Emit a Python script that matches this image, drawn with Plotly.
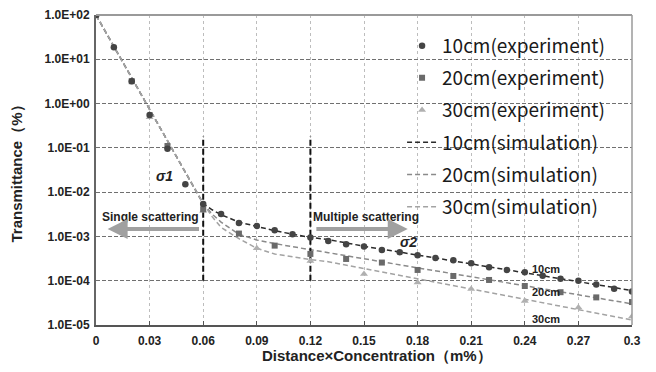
import plotly.graph_objects as go

# ---------------- data ----------------
x10 = [0, 0.01, 0.02, 0.03, 0.04, 0.05, 0.06, 0.07, 0.08, 0.09, 0.10, 0.11, 0.12, 0.13, 0.14, 0.15,
       0.16, 0.17, 0.18, 0.19, 0.20, 0.21, 0.22, 0.23, 0.24, 0.25, 0.26, 0.27, 0.28, 0.29, 0.30]
y10 = [100, 18.7, 3.2, 0.55, 0.096, 0.015, 0.0054, 0.0032, 0.0020, 0.00173, 0.00138, 0.00112, 0.00094,
       0.00079, 0.00067, 0.00059, 0.000495, 0.00044, 0.000376, 0.000327, 0.00029, 0.000248, 0.000202,
       0.000175, 0.000155, 0.00013, 0.000111, 0.0001, 8.2e-5, 6.6e-5, 5.7e-5]

x20 = [0, 0.02, 0.04, 0.06, 0.08, 0.10, 0.12, 0.14, 0.16, 0.18, 0.20, 0.22, 0.24, 0.26, 0.28, 0.30]
y20 = [100, 3.2, 0.11, 0.0041, 0.00116, 0.00062, 0.000403, 0.00031, 0.000257, 0.000175, 0.000128,
       0.000104, 7.6e-5, 5.5e-5, 4.2e-5, 3.3e-5]

x30 = [0, 0.03, 0.06, 0.09, 0.12, 0.15, 0.18, 0.21, 0.24, 0.27, 0.30]
y30 = [100, 0.49, 0.0038, 0.00054, 0.00028, 0.000142, 9.1e-5, 6.5e-5, 3.5e-5, 2.5e-5, 1.55e-5]

x_sim = [0, 0.06, 0.065, 0.07, 0.08, 0.09, 0.10, 0.11, 0.12, 0.13, 0.15, 0.18, 0.21, 0.24, 0.27, 0.30]
sim10 = [100, 0.0055, 0.0040, 0.0031, 0.0021, 0.00166, 0.00135, 0.00112, 0.00095, 0.00085, 0.00060,
         0.00038, 0.00024, 0.000151, 9.5e-5, 6.0e-5]
sim20 = [100, 0.0055, 0.0032, 0.0021, 0.00112, 0.00083, 0.00069, 0.00058, 0.00050, 0.00043, 0.00031,
         0.000195, 0.000123, 7.6e-5, 4.8e-5, 3.0e-5]
sim30 = [100, 0.0055, 0.0028, 0.0016, 0.00089, 0.00054, 0.00040, 0.00034, 0.00030, 0.000269, 0.00019,
         0.00011, 6.5e-5, 3.8e-5, 2.2e-5, 1.3e-5]

x_ticks = [0, 0.03, 0.06, 0.09, 0.12, 0.15, 0.18, 0.21, 0.24, 0.27, 0.30]
x_ticktext = ["0", "0.03", "0.06", "0.09", "0.12", "0.15", "0.18", "0.21", "0.24", "0.27", "0.3"]
y_ticks = [1e-5, 1e-4, 1e-3, 1e-2, 1e-1, 1e0, 1e1, 1e2]
y_ticktext = ["1.0E-05", "1.0E-04", "1.0E-03", "1.0E-02", "1.0E-01", "1.0E+00", "1.0E+01", "1.0E+02"]

boundary_x = [0.06, 0.12]
boundary_y = [1e-4, 0.18]

# ---------------- figure ----------------
fig = go.Figure()

leg_font = dict(family="Noto Sans CJK JP, Noto Sans, sans-serif", size=19, color="#1a1a1a")
DASH = "5px,3px"

# simulation lines (drawn first, under markers); 30cm on top so the shared steep part is grey
fig.add_trace(go.Scatter(x=x_sim, y=sim10, mode="lines", name="10cm(simulation)",
                         line=dict(color="#2b2b2b", width=1.5, dash=DASH),
                         legendrank=4, legendgroup="g4"))
fig.add_trace(go.Scatter(x=x_sim, y=sim20, mode="lines", name="20cm(simulation)",
                         line=dict(color="#8a8a8a", width=1.5, dash=DASH),
                         legendrank=5, legendgroup="g5"))
fig.add_trace(go.Scatter(x=x_sim, y=sim30, mode="lines", name="30cm(simulation)",
                         line=dict(color="#a3a3a3", width=1.5, dash=DASH),
                         legendrank=6, legendgroup="g6"))

# vertical boundary lines
for bx in boundary_x:
    fig.add_trace(go.Scatter(x=[bx, bx], y=boundary_y, mode="lines", showlegend=False,
                             line=dict(color="#111", width=2, dash="6px,3px"), hoverinfo="skip"))

# experiment markers
fig.add_trace(go.Scatter(x=x30, y=y30, mode="markers", name="30cm(experiment)",
                         marker=dict(symbol="triangle-up", size=7, color="#b0b0b0"),
                         legendrank=3, legendgroup="g3"))
fig.add_trace(go.Scatter(x=x20, y=y20, mode="markers", name="20cm(experiment)",
                         marker=dict(symbol="square", size=6, color="#6a6a6a"),
                         legendrank=2, legendgroup="g2"))
fig.add_trace(go.Scatter(x=x10, y=y10, mode="markers", name="10cm(experiment)",
                         marker=dict(symbol="circle", size=6.5, color="#444444"),
                         legendrank=1, legendgroup="g1"))

tick_font = dict(family="Liberation Sans, Arial, sans-serif", size=12, color="#222", weight="bold")

fig.update_xaxes(
    type="linear", range=[0, 0.3], tickvals=x_ticks, ticktext=x_ticktext,
    tickfont=tick_font, showgrid=True, gridcolor="#bdbdbd", griddash="dot", gridwidth=1,
    showline=True, linecolor="#555", linewidth=2, ticks="inside", ticklen=4, tickcolor="#555",
    zeroline=False, automargin=False, ticklabelstandoff=4,
)
fig.update_yaxes(
    type="log", range=[-5, 2], tickvals=y_ticks, ticktext=y_ticktext,
    tickfont=tick_font, showgrid=True, gridcolor="#707070", griddash="4px,2px", gridwidth=1,
    showline=True, linecolor="#666", linewidth=2, ticks="", zeroline=False, automargin=False,
    ticklabelstandoff=2,
    title=dict(text="Transmittance（%）",
               font=dict(family="Liberation Sans, Arial, sans-serif", size=15, color="#222",
                         weight="bold"), standoff=20),
)

# x axis title as a paper annotation (slightly right of centre, as in the original)
fig.add_annotation(xref="paper", yref="paper", x=0.525, y=-0.097, xanchor="center",
                   yanchor="middle", showarrow=False, text="Distance×Concentration（m%）",
                   font=dict(family="Liberation Sans, Arial, sans-serif", size=15, color="#222",
                             weight="bold"))

# top & right borders
fig.add_shape(type="line", xref="paper", yref="paper", x0=0, x1=1, y0=1, y1=1,
              line=dict(color="#9a9a9a", width=2))
fig.add_shape(type="line", xref="paper", yref="paper", x0=1, x1=1, y0=0, y1=1,
              line=dict(color="#9a9a9a", width=1.5))

ann_bold = dict(family="Liberation Sans, Arial, sans-serif", color="#222", weight="bold")
annotations = [
    dict(x=0.0386, y=-1.634, text="<i>σ1</i>", font=dict(size=14, **ann_bold)),
    dict(x=0.175, y=-3.124, text="<i>σ2</i>", font=dict(size=14, **ann_bold)),
    dict(x=0.0305, y=-2.56, text="Single scattering", font=dict(size=12, **ann_bold)),
    dict(x=0.151, y=-2.57, text="Multiple scattering", font=dict(size=12, **ann_bold)),
    dict(x=0.252, y=-3.73, text="10cm", font=dict(size=11, **ann_bold)),
    dict(x=0.252, y=-4.25, text="20cm", font=dict(size=11, **ann_bold)),
    dict(x=0.252, y=-4.87, text="30cm", font=dict(size=11, **ann_bold)),
]
for a in annotations:
    fig.add_annotation(xref="x", yref="y", showarrow=False, **a)

# arrows (log10 y-coordinates for annotations on log axis)
fig.add_annotation(xref="x", yref="y", axref="x", ayref="y",
                   x=0.0065, y=-2.83, ax=0.0585, ay=-2.83, text="",
                   showarrow=True, arrowhead=2, arrowsize=1, arrowwidth=4, arrowcolor="#a0a0a0")
fig.add_annotation(xref="x", yref="y", axref="x", ayref="y",
                   x=0.1745, y=-2.83, ax=0.1225, ay=-2.83, text="",
                   showarrow=True, arrowhead=2, arrowsize=1, arrowwidth=4, arrowcolor="#a0a0a0")

# the page body adds an 8px offset, margins compensate for it
fig.update_layout(
    width=656, height=372,
    margin=dict(l=88, r=32, t=7, b=55),
    paper_bgcolor="white", plot_bgcolor="white",
    showlegend=True,
    legend=dict(x=0.571, y=0.962, xanchor="left", yanchor="top", bgcolor="rgba(0,0,0,0)",
                font=leg_font, tracegroupgap=4.5, itemwidth=30, traceorder="grouped"),
)

fig.write_html("out.html")
